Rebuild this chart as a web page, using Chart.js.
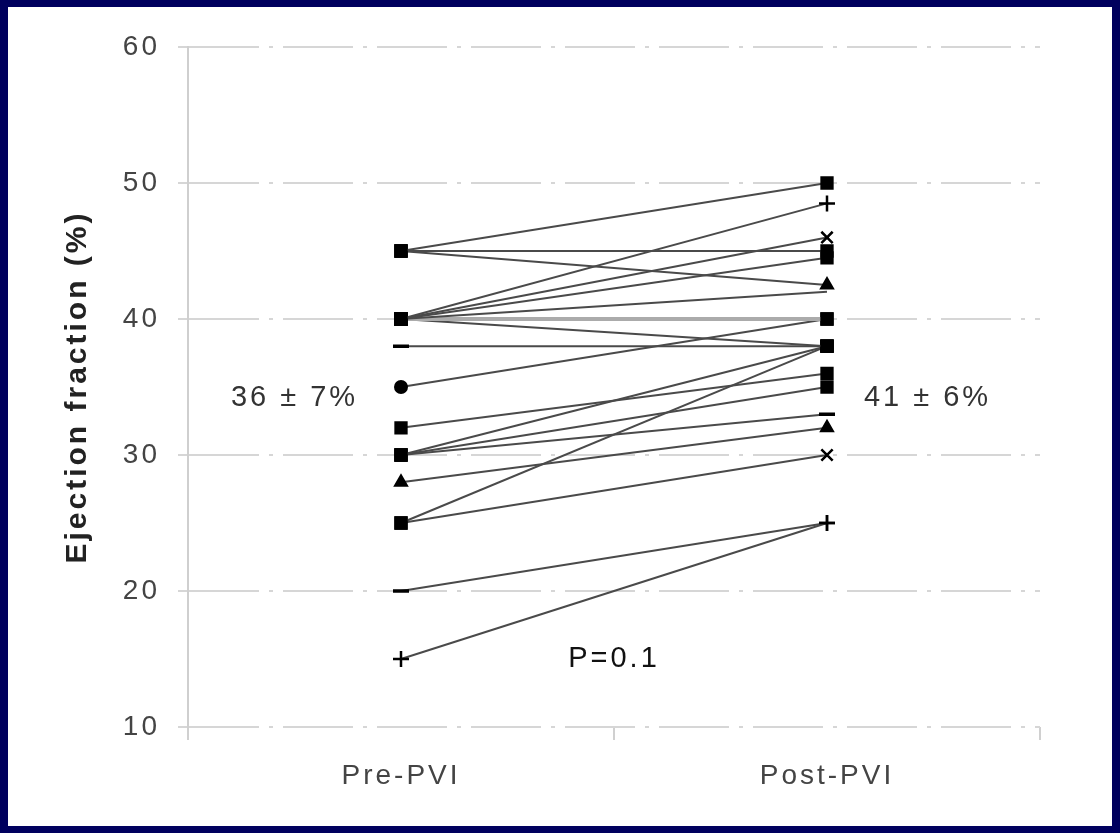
<!DOCTYPE html>
<html lang="en">
<head>
<meta charset="UTF-8">
<title>Ejection fraction before and after PVI</title>
<script src="https://cdn.jsdelivr.net/npm/chart.js"></script>
<style>
  html, body { margin: 0; padding: 0; background: #00005e; overflow: hidden; }
  #wrap { width: 1120px; height: 833px; }
</style>
</head>
<body>
<div id="wrap"><canvas id="efChart" width="1120" height="833"></canvas></div>
<script>
// one patient per line: pre value -> post value
const categories = ['Pre-PVI', 'Post-PVI'];
const preValues  = [45, 45, 45,   40,   40, 40,   40, 40, 40, 38, 35, 32, 30, 30, 30, 28, 25, 25, 20, 15];
const postValues = [50, 45, 42.5, 48.5, 46, 44.5, 42, 40, 38, 38, 40, 36, 38, 35, 33, 32, 38, 30, 25, 25];
const yTicks = [10, 20, 30, 40, 50, 60];
const preMean = 34.2;   // vertical position of the mean labels
const noteTexts = ['36 ± 7%', '41 ± 6%', 'P=0.1'];
const pValueLevel = 15;

// marker style per end point
const preMarker  = ['rect','rect','rect','rect','rect','rect','rect','rect','rect','line','circle','rect','rect','rect','rect','triangle','rect','rect','line','cross'];
const postMarker = ['rect','rect','triangle','cross','crossRot','rect','none','rect','rect','rect','rect','rect','rect','rect','line','triangle','rect','crossRot','cross','cross'];
const markerSize = { rect: 8, triangle: 7, cross: 8, crossRot: 8, line: 8, circle: 6, none: 0 };
const markerLine = { rect: 2, triangle: 2, cross: 2.5, crossRot: 2.5, line: 3.5, circle: 2, none: 0 };

const font = '"Liberation Sans", Arial, sans-serif';

const datasets = preValues.map(function(pre, i) {
  const styles = [preMarker[i], postMarker[i]];
  const grey = (pre === 40 && postValues[i] === 40);
  return {
    label: 'Patient ' + (i + 1),
    data: [pre, postValues[i]],
    borderColor: grey ? '#ababab' : '#4a4a4a',
    borderWidth: grey ? 4 : 2,
    pointStyle: styles.map(s => s === 'none' ? 'circle' : s),
    pointRadius: styles.map(s => markerSize[s]),
    pointHoverRadius: styles.map(s => markerSize[s]),
    pointBorderWidth: styles.map(s => markerLine[s]),
    pointBackgroundColor: '#000',
    pointBorderColor: '#000',
    tension: 0
  };
});

const panelBackground = {
  id: 'panelBackground',
  beforeDraw(chart) {
    const ctx = chart.ctx;
    ctx.save();
    ctx.fillStyle = '#ffffff';
    ctx.fillRect(8, 7, 1104, 819);
    ctx.restore();
    ctx.letterSpacing = '3px';
  }
};

const notes = {
  id: 'notes',
  afterDatasetsDraw(chart) {
    const ctx = chart.ctx;
    const x = chart.scales.x, y = chart.scales.y, area = chart.chartArea;
    ctx.save();
    ctx.textAlign = 'center';
    ctx.textBaseline = 'middle';
    ctx.fillStyle = '#333';
    ctx.font = '29px ' + font;
    ctx.fillText(noteTexts[0], (area.left + x.getPixelForValue(0)) / 2, y.getPixelForValue(preMean));
    ctx.fillText(noteTexts[1], (area.right + x.getPixelForValue(1)) / 2 - 6, y.getPixelForValue(preMean));
    ctx.fillStyle = '#111';
    ctx.font = '29px ' + font;
    ctx.fillText(noteTexts[2], (area.left + area.right) / 2, y.getPixelForValue(pValueLevel));
    ctx.restore();
  }
};

new Chart(document.getElementById('efChart'), {
  type: 'line',
  data: { labels: categories, datasets: datasets },
  options: {
    responsive: false,
    animation: false,
    devicePixelRatio: 1,
    layout: { padding: { top: 47, right: 80, left: 0, bottom: 0 } },
    plugins: { legend: { display: false }, tooltip: { enabled: false } },
    scales: {
      x: {
        type: 'category',
        offset: true,
        grid: { display: true, offset: true, drawOnChartArea: false, tickLength: 13, color: '#d0d0d0', lineWidth: 2 },
        border: { display: false },
        ticks: { color: '#444', padding: 19, font: { family: font, size: 28 } },
        afterFit(scale) { scale.height = 106; }
      },
      y: {
        min: 10,
        max: 60,
        afterBuildTicks(scale) { scale.ticks = yTicks.map(v => ({ value: v })); },
        grid: { color: '#d6d6d6', lineWidth: 2, tickLength: 10 },
        border: { display: true, color: '#cfcfcf', width: 2, dash: [70, 10, 4, 10] },
        ticks: { color: '#444', padding: 18, font: { family: font, size: 28 } },
        title: {
          display: true,
          text: 'Ejection fraction (%)',
          color: '#222',
          font: { family: font, size: 30, weight: 'bold' },
          padding: { top: 60, bottom: 0 }
        },
        afterFit(scale) { scale.width = 188; }
      }
    }
  },
  plugins: [panelBackground, notes]
});
</script>
</body>
</html>
